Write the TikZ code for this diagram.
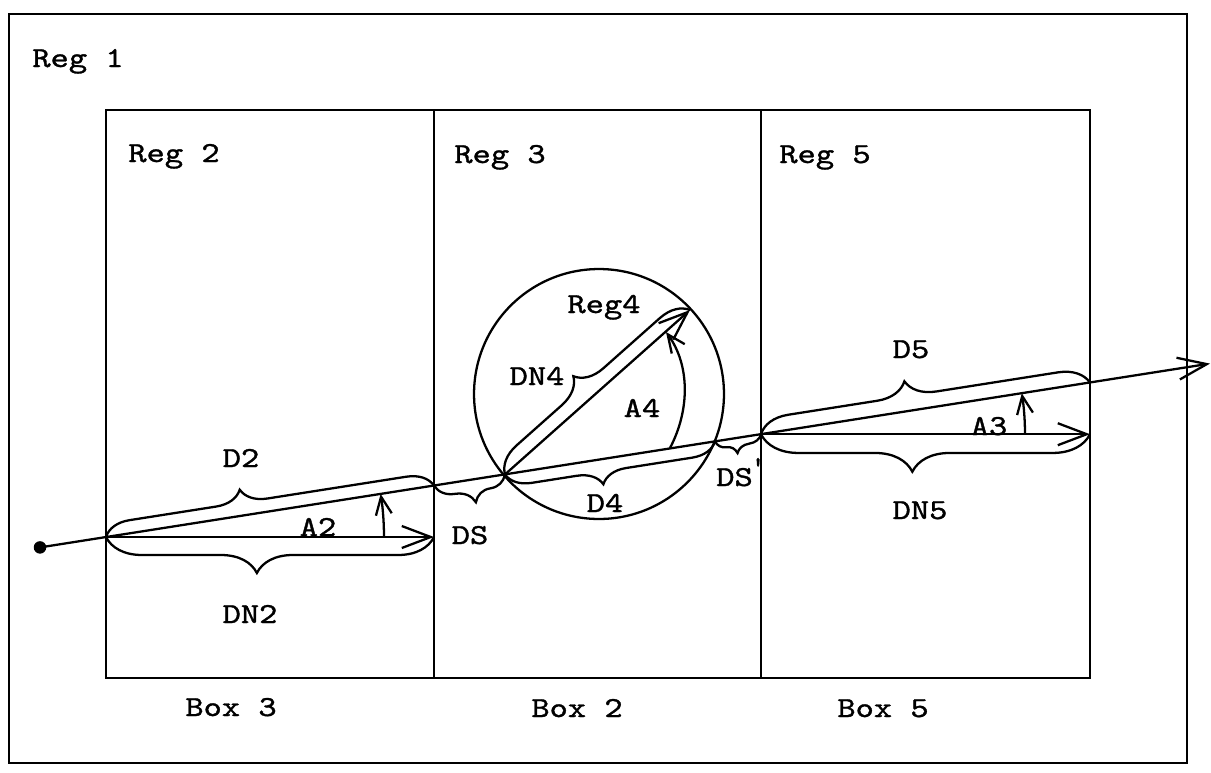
\documentclass[tikz,border=0pt]{standalone}
\usepackage{fontspec}
\newfontfamily\labfont[FakeBold=1.1]{lmmono10-regular.otf}
\usetikzlibrary{decorations.pathreplacing, arrows.meta}
\newcommand{\wide}[1]{\scalebox{1.2}[1]{#1}}
\begin{document}
\begin{tikzpicture}[x=0.02cm, y=-0.02cm, line width=1.3pt,
  lab/.style={font=\fontsize{16.5}{18}\selectfont\labfont, inner sep=0pt, anchor=base},
  region/.style={draw, line width=1.2pt, inner sep=0pt, minimum height=11.36cm},
  barb/.style={-{Straight Barb[length=0.58cm, width=0.44cm]}},
  smallbarb/.style={-{Straight Barb[length=0.36cm, width=0.32cm]}},
  brc/.style 2 args={decorate, decoration={brace, amplitude=#1, aspect=#2}},
]
\useasboundingbox (0,0) rectangle (1211,772);

% regions
\node[draw, line width=1.2pt, inner sep=0pt, minimum width=23.56cm, minimum height=14.98cm] (reg1) at (598,388.5) {};
\node[region, minimum width=6.56cm] (box3) at (270,394) {};
\node[region, minimum width=6.54cm] (box2) at (597.5,394) {};
\node[region, minimum width=6.58cm] (box5) at (925.5,394) {};
\node[draw, circle, minimum size=5cm, inner sep=0pt] (reg4c) at (599,394) {};

% key points
\coordinate (O2) at (106,537);
\coordinate (L1) at (434,485.5);
\coordinate (P) at (505,474.4);
\coordinate (Q) at (715,441.4);
\coordinate (V) at (761,434.2);
\coordinate (E5) at (1090,382.5);
\coordinate (H2) at (434,537);
\coordinate (H5) at (1090,434.2);
\coordinate (R) at (690,310);
\coordinate (tipend) at (1210,363.6);
\coordinate (a2s) at (384,537);
\coordinate (a3s) at (1025,434.2);
\coordinate (a4s) at (670,448);
\coordinate (a4e) at (666,332);

% main ray
\node[circle, fill, inner sep=0pt, minimum size=0.25cm] (dot) at (40,547.4) {};
\draw[barb] (dot.center) -- (tipend);

% horizontal and radius arrows
\draw[barb] (O2) -- (H2);
\draw[barb] (V) -- (H5);
\draw[barb] (P) -- (R);

% angle arrows
\draw[smallbarb] (a2s) arc[start angle=0, end angle=-8.92, radius=278];
\draw[smallbarb] (a3s) arc[start angle=0, end angle=-8.92, radius=264];
\draw[smallbarb] (a4s) .. controls (690,410) and (690,365) .. (a4e);

% braces
\draw[brc={0.52cm}{0.42}] (O2) -- (L1);
\draw[brc={0.72cm}{0.54}] (H2) -- (O2);
\draw[brc={0.46cm}{0.46}] (P) -- (L1);
\draw[brc={0.5cm}{0.55}] (Q) -- (P);
\draw[brc={0.3cm}{0.56}] (V) -- (Q);
\draw[brc={0.6cm}{0.45}] (V) -- (E5);
\draw[brc={0.75cm}{0.54}] (H5) -- (V);
\draw[brc={0.56cm}{0.47}] (P) -- (R);

% labels
\node[lab] (lreg1) at (78,67) {\wide{Reg 1}};
\node[lab] (lreg2) at (174,162) {\wide{Reg 2}};
\node[lab] (lreg3) at (500,163) {\wide{Reg 3}};
\node[lab] (lreg5) at (825,163) {\wide{Reg 5}};
\node[lab] (lbox3) at (231,716) {\wide{Box 3}};
\node[lab] (lbox2) at (577,717) {\wide{Box 2}};
\node[lab] (lbox5) at (883,717) {\wide{Box 5}};
\node[lab] (ld2) at (241,467) {\wide{D2}};
\node[lab] (ldn2) at (250,623) {\wide{DN2}};
\node[lab] (la2) at (318,536) {\wide{A2}};
\node[lab] (lds) at (470,544) {\wide{DS}};
\node[lab] (ld4) at (605,512) {\wide{D4}};
\node[lab] (ldsp) at (741,486) {\wide{DS}\raisebox{0.8ex}{\kern-0.08em'}};
\node[lab] (ld5) at (911,358) {\wide{D5}};
\node[lab] (la3) at (989,435) {\wide{A3}};
\node[lab] (ldn5) at (920,519) {\wide{DN5}};
\node[lab] (ldn4) at (537,385) {\wide{DN4}};
\node[lab] (lreg4) at (604,313) {\wide{Reg4}};
\node[lab] (la4) at (642,417) {\wide{A4}};
\end{tikzpicture}
\end{document}
